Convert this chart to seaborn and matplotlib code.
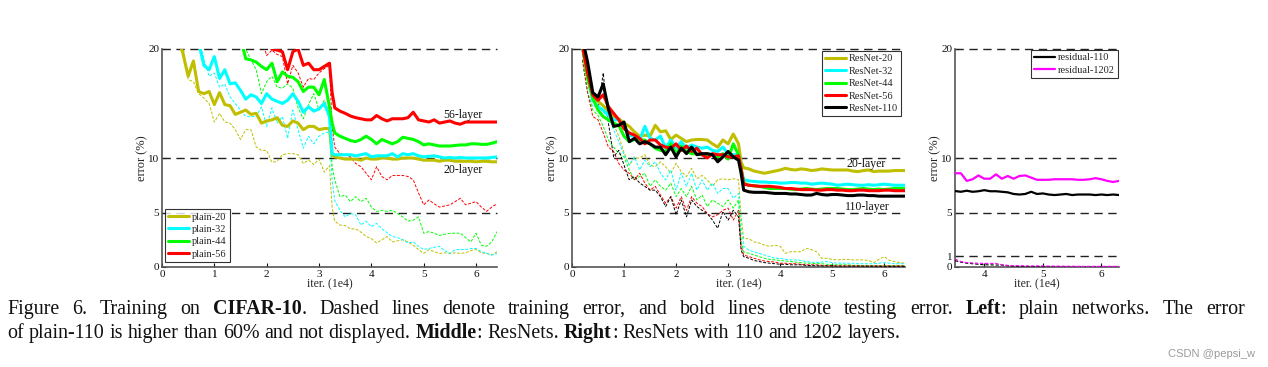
import numpy as np
import pandas as pd
import seaborn as sns
import matplotlib
matplotlib.use('Agg')
import matplotlib.pyplot as plt

NaN = np.nan

# x grid (iter, 1e4) of the left panel
LEFT_X = [0.3, 0.4, 0.5, 0.6, 0.7, 0.8, 0.9, 1.0, 1.1, 1.2,
          1.3, 1.4, 1.5, 1.6, 1.7, 1.8, 1.9, 2.0, 2.1, 2.2,
          2.3, 2.4, 2.5, 2.6, 2.7, 2.8, 2.9, 3.0, 3.1, 3.2,
          3.25,
          3.3, 3.4, 3.5, 3.6, 3.7, 3.8, 3.9, 4.0, 4.1, 4.2,
          4.3, 4.4, 4.5, 4.6, 4.7, 4.8, 4.9, 5.0, 5.1, 5.2,
          5.3, 5.4, 5.5, 5.6, 5.7, 5.8, 5.9, 6.0, 6.1, 6.2,
          6.3, 6.4]

# plain nets, test error (bold)
P20_TEST = [21.0, 19.6, 17.5, 18.9, 16.1, 15.9, 16.1, 14.9, 16.0, 14.9,
            14.8, 14.0, 14.2, 14.4, 14.0, 14.1, 13.2, 13.4, 13.5, 13.7,
            13.0, 12.9, 13.4, 13.2, 12.6, 12.9, 12.9, 12.6, 12.7, 12.7,
            10.3,
            10.1, 10.0, 9.9, 9.9, 9.9, 9.8, 10.0, 9.9, 9.9, 10.0,
            10.0, 9.9, 9.9, 10.0, 10.0, 10.0, 9.9, 9.8, 9.8, 9.8,
            9.7, 9.8, 9.8, 9.7, 9.7, 9.7, 9.7, 9.65, 9.7, 9.7,
            9.65, 9.65]
P32_TEST = [NaN, NaN, NaN, NaN, 20.6, 18.5, 18.1, 19.3, 17.3, 18.1,
            16.8, 16.9, 16.2, 15.4, 15.8, 15.6, 15.0, 15.9, 15.4, 15.2,
            15.0, 15.3, 15.9, 15.2, 14.2, 14.7, 14.3, 14.5, 15.0, 13.8,
            10.4,
            10.3, 10.3, 10.3, 10.3, 10.2, 10.3, 10.4, 10.1, 10.2, 10.2,
            10.2, 10.4, 10.1, 10.4, 10.3, 10.4, 10.2, 10.1, 10.15, 10.2,
            10.1, 10.0, 10.05, 10.0, 10.05, 10.0, 10.0, 10.0, 10.0, 10.0,
            10.05, 10.1]
P44_TEST = [NaN, NaN, NaN, NaN, NaN, NaN, NaN, NaN, NaN, NaN,
            NaN, NaN, 21.0, 19.1, 19.0, 18.8, 18.4, 18.1, 18.7, 17.0,
            17.9, 17.5, 17.4, 17.0, 16.1, 16.5, 16.5, 15.8, 17.2, 14.7,
            13.2,
            12.3, 12.0, 11.8, 11.6, 11.5, 11.7, 12.0, 11.7, 11.3, 11.7,
            11.5, 11.3, 11.5, 11.9, 11.8, 11.7, 11.5, 11.2, 11.3, 11.2,
            11.1, 11.1, 11.1, 11.15, 11.2, 11.2, 11.3, 11.3, 11.25, 11.25,
            11.35, 11.5]
P56_TEST = [NaN, NaN, NaN, NaN, NaN, NaN, NaN, NaN, NaN, NaN,
            NaN, NaN, NaN, NaN, NaN, NaN, NaN, 21.0, 20.0, 19.9,
            19.75, 18.1, 19.75, 20.0, 18.5, 18.7, 18.1, 18.1, 18.4, 18.7,
            16.0,
            14.6, 14.3, 14.1, 13.85, 13.7, 13.6, 13.5, 13.5, 13.9, 13.6,
            13.4, 13.6, 13.6, 13.6, 13.7, 14.2, 13.5, 13.4, 13.3, 13.5,
            13.2, 13.3, 13.4, 13.2, 13.1, 13.3, 13.3, 13.3, 13.3, 13.3,
            13.3, 13.3]

# plain nets, training error (dashed)
P20_TRAIN = [21.0, 20.3, 17.2, 17.0, 15.9, 15.5, 15.0, 13.3, 14.1, 13.3,
             13.2, 12.6, 11.7, 12.6, 12.6, 11.0, 10.7, 10.7, 9.6, 9.7,
             10.3, 10.4, 10.4, 10.3, 9.5, 9.8, 9.4, 9.9, 8.7, 9.3,
             5.5,
             4.2, 3.85, 3.8, 3.5, 3.5, 3.2, 2.8, 2.6, 2.2, 2.5,
             2.8, 2.3, 2.4, 2.5, 2.3, 2.0, 1.6, 1.25, 1.6, 1.4,
             1.25, 1.3, 1.25, 1.3, 1.25, 1.3, 1.5, 1.6, 1.3, 1.25,
             1.1, 1.4]
P32_TRAIN = [NaN, NaN, NaN, NaN, 21.0, 19.1, 17.5, 17.8, 16.5, 16.8,
             15.6, 15.0, 14.4, 13.8, 13.8, 13.8, 14.7, 12.9, 14.6, 13.2,
             13.8, 11.8, 14.4, 12.6, 10.9, 12.0, 11.3, 12.0, 12.3, 12.4,
             8.0,
             6.1, 5.2, 4.6, 4.9, 4.8, 3.85, 4.2, 3.7, 4.0, 3.5,
             3.15, 2.8, 2.7, 2.5, 2.2, 2.3, 1.9, 1.6, 1.7, 1.8,
             1.9, 1.5, 1.25, 1.6, 1.6, 1.6, 1.7, 1.7, 1.4, 1.25,
             1.1, 1.25]
P44_TRAIN = [NaN, NaN, NaN, NaN, NaN, NaN, NaN, NaN, NaN, NaN,
             NaN, NaN, 21.0, 20.0, 19.0, 18.1, 15.9, 17.0, 17.5, 16.5,
             16.4, 16.8, 16.4, 14.6, 13.6, 14.9, 15.9, 14.4, 15.3, 14.1,
             9.2,
             8.0, 6.45, 6.6, 6.0, 6.45, 6.0, 6.3, 5.5, 5.1, 5.2,
             5.1, 5.2, 4.9, 4.6, 4.2, 4.3, 4.6, 3.1, 3.25, 3.1,
             2.9, 3.0, 3.1, 3.1, 3.1, 2.7, 2.3, 3.1, 2.0, 1.9,
             2.3, 3.25]
P56_TRAIN = [NaN, NaN, NaN, NaN, NaN, NaN, NaN, NaN, NaN, NaN,
             NaN, NaN, NaN, NaN, NaN, NaN, 21.0, 19.4, 19.9, 19.5,
             19.3, 16.8, 18.5, 17.8, 16.5, 17.3, 17.2, 17.8, 18.2, 18.5,
             12.9,
             11.0, 10.4, 10.3, 10.1, 9.5, 9.2, 8.6, 8.0, 9.2, 8.3,
             8.0, 8.4, 8.4, 8.4, 8.3, 8.0, 6.8, 5.7, 6.15, 5.8,
             5.5, 5.6, 5.7, 6.0, 6.3, 5.7, 5.85, 6.0, 5.5, 5.1,
             5.5, 5.8]

# x grid of the middle panel
MID_X = [0.2, 0.3, 0.4, 0.5, 0.6, 0.7, 0.8, 0.9, 1.0, 1.1,
         1.2, 1.3, 1.4, 1.5, 1.6, 1.7, 1.8, 1.9, 2.0, 2.1,
         2.2, 2.3, 2.4, 2.5, 2.6, 2.7, 2.8, 2.9, 3.0, 3.1,
         3.2, 3.25,
         3.3, 3.4, 3.5, 3.6, 3.7, 3.8, 3.9, 4.0, 4.1, 4.2,
         4.3, 4.4, 4.5, 4.6, 4.7, 4.8, 4.9, 5.0, 5.1, 5.2,
         5.3, 5.4, 5.5, 5.6, 5.7, 5.8, 5.9, 6.0, 6.1, 6.2,
         6.3, 6.4]

# ResNets, test error (bold)
R20_TEST = [20.3, 17.5, 15.5, 15.2, 14.8, 14.3, 13.8, 13.6, 13.2, 12.9,
            12.4, 12.0, 12.1, 12.0, 13.0, 12.4, 12.5, 11.7, 12.1, 11.8,
            11.5, 11.65, 11.7, 11.7, 11.65, 11.3, 11.0, 11.65, 11.3, 12.2,
            11.3, 9.6,
            9.1, 9.0, 8.8, 8.7, 8.6, 8.7, 8.8, 8.9, 9.05, 8.95,
            8.9, 9.0, 8.95, 8.85, 8.9, 9.0, 8.95, 8.9, 8.9, 8.9,
            8.9, 8.8, 8.75, 8.85, 8.9, 8.75, 8.8, 8.8, 8.8, 8.85,
            8.85, 8.85]
R32_TEST = [20.3, 17.5, 15.3, 14.7, 14.4, 13.9, 13.5, 13.5, 12.9, 12.1,
            12.0, 11.65, 12.9, 11.8, 11.65, 12.0, 10.9, 11.65, 10.9, 11.5,
            10.9, 11.2, 11.0, 10.9, 11.0, 10.7, 10.6, 11.0, 10.4, 10.3,
            10.3, 9.0,
            8.0, 7.9, 7.85, 7.8, 7.8, 7.75, 7.75, 7.7, 7.7, 7.75,
            7.75, 7.7, 7.7, 7.6, 7.65, 7.7, 7.65, 7.6, 7.5, 7.55,
            7.6, 7.55, 7.5, 7.5, 7.55, 7.5, 7.55, 7.6, 7.55, 7.5,
            7.5, 7.5]
R44_TEST = [20.3, 17.3, 15.5, 14.4, 13.8, 13.5, 13.2, 13.0, 12.0, 11.5,
            11.7, 11.65, 11.65, 11.3, 10.9, 10.7, 10.6, 11.3, 10.4, 11.1,
            10.6, 10.4, 10.4, 10.3, 10.3, 10.3, 10.1, 10.4, 9.9, 11.3,
            10.3, 9.0,
            7.7, 7.5, 7.45, 7.4, 7.3, 7.2, 7.2, 7.2, 7.2, 7.15,
            7.1, 7.15, 7.2, 7.15, 7.1, 7.15, 7.2, 7.2, 7.2, 7.15,
            7.1, 7.1, 7.15, 7.2, 7.15, 7.1, 7.15, 7.1, 7.15, 7.2,
            7.2, 7.2]
R56_TEST = [20.3, 17.8, 15.8, 15.3, 15.8, 14.7, 14.1, 13.5, 12.7, 12.3,
            12.1, 11.8, 11.3, 11.65, 11.65, 11.2, 11.0, 10.9, 11.3, 10.7,
            11.1, 10.6, 10.9, 10.3, 10.0, 10.4, 10.3, 10.3, 10.1, 10.1,
            10.2, 9.0,
            7.6, 7.5, 7.45, 7.4, 7.4, 7.4, 7.35, 7.3, 7.2, 7.2,
            7.15, 7.1, 7.1, 7.1, 7.05, 7.05, 7.1, 7.1, 7.05, 7.05,
            7.0, 7.0, 7.05, 7.05, 7.0, 7.0, 7.0, 7.05, 7.05, 7.0,
            7.0, 7.0]
R110_TEST = [21.0, 18.8, 16.0, 15.6, 16.8, 14.5, 12.9, 13.0, 13.3, 11.5,
             11.8, 11.3, 11.5, 11.3, 11.0, 11.0, 10.3, 11.0, 10.1, 10.9,
             10.4, 11.0, 10.3, 10.4, 10.4, 10.3, 9.65, 10.1, 10.6, 10.1,
             9.8, 8.6,
             7.05, 6.9, 6.85, 6.85, 6.85, 6.8, 6.75, 6.75, 6.75, 6.7,
             6.7, 6.65, 6.6, 6.6, 6.75, 6.65, 6.6, 6.65, 6.65, 6.6,
             6.55, 6.55, 6.6, 6.6, 6.55, 6.55, 6.5, 6.5, 6.5, 6.5,
             6.5, 6.5]

# ResNets, training error (dashed)
R20_TRAIN = [19.5, 17.0, 15.3, 14.5, 13.7, 13.5, 13.1, 12.0, 10.5, 9.35,
             10.0, 10.0, 10.3, 9.35, 9.2, 9.65, 9.2, 8.6, 9.5, 8.75,
             8.3, 9.05, 8.1, 8.4, 8.0, 7.4, 8.0, 8.1, 8.0, 8.1,
             8.0, 4.6,
             2.6, 2.6, 2.3, 2.2, 2.0, 1.9, 2.0, 1.9, 1.25, 1.4,
             1.4, 1.4, 1.7, 1.6, 1.4, 0.8, 0.8, 0.7, 0.65, 0.7,
             0.7, 0.65, 0.65, 0.65, 0.6, 0.4, 0.7, 0.95, 0.6, 0.5,
             0.4, 0.35]
R32_TRAIN = [19.0, 16.0, 14.7, 14.9, 14.2, 13.8, 12.6, 11.5, 10.3, 9.35,
             10.1, 8.9, 9.8, 9.2, 9.65, 8.6, 8.0, 8.9, 7.05, 8.6,
             7.4, 8.6, 7.05, 8.0, 7.05, 7.7, 6.75, 7.2, 7.2, 6.3,
             6.75, 3.7,
             1.9, 1.55, 1.4, 1.25, 1.1, 0.95, 0.8, 0.8, 0.7, 0.65,
             0.65, 0.6, 0.5, 0.45, 0.4, 0.45, 0.5, 0.4, 0.35, 0.35,
             0.35, 0.35, 0.3, 0.3, 0.3, 0.3, 0.35, 0.4, 0.35, 0.3,
             0.3, 0.3]
R44_TRAIN = [19.0, 16.0, 14.4, 13.9, 12.9, 11.65, 11.0, 10.4, 10.1, 8.9,
             8.0, 8.3, 8.6, 7.4, 8.0, 7.4, 7.05, 7.7, 6.45, 7.2,
             6.45, 7.4, 6.15, 6.6, 5.55, 6.15, 5.85, 5.55, 6.15, 5.4,
             6.15, 2.5,
             1.4, 1.25, 1.1, 0.95, 0.8, 0.7, 0.65, 0.6, 0.55, 0.5,
             0.45, 0.4, 0.35, 0.35, 0.3, 0.3, 0.25, 0.2, 0.2, 0.2,
             0.2, 0.15, 0.15, 0.12, 0.12, 0.12, 0.12, 0.12, 0.12, 0.12,
             0.12, 0.12]
R56_TRAIN = [19.0, 16.0, 13.8, 13.5, 12.3, 11.0, 10.6, 9.5, 8.9, 8.6,
             8.0, 8.6, 7.7, 7.05, 7.4, 6.6, 5.85, 6.45, 5.4, 6.45,
             5.2, 6.45, 5.85, 5.55, 4.9, 4.6, 4.8, 5.2, 5.4, 4.3,
             5.2, 1.9,
             1.1, 0.95, 0.8, 0.65, 0.55, 0.5, 0.45, 0.35, 0.35, 0.3,
             0.3, 0.25, 0.2, 0.2, 0.2, 0.15, 0.12, 0.12, 0.1, 0.1,
             0.1, 0.1, 0.1, 0.1, 0.1, 0.1, 0.1, 0.1, 0.1, 0.1,
             0.1, 0.1]
R110_TRAIN = [20.5, 17.5, 15.6, 14.4, 17.8, 13.2, 10.1, 10.7, 9.35, 8.0,
              8.3, 7.7, 7.4, 7.05, 7.05, 6.45, 5.55, 6.45, 4.8, 6.15,
              4.6, 6.15, 5.55, 5.2, 4.9, 4.3, 3.55, 5.1, 4.3, 5.2,
              4.6, 1.55,
              0.95, 0.8, 0.6, 0.5, 0.4, 0.35, 0.3, 0.25, 0.25, 0.2,
              0.2, 0.2, 0.15, 0.12, 0.12, 0.1, 0.1, 0.1, 0.08, 0.08,
              0.08, 0.08, 0.08, 0.07, 0.07, 0.07, 0.06, 0.06, 0.06, 0.06,
              0.06, 0.06]

# x grid of the right panel
RIGHT_X = [3.5, 3.6, 3.7, 3.8, 3.9, 4.0, 4.1, 4.2, 4.3, 4.4,
           4.5, 4.6, 4.7, 4.8, 4.9, 5.0, 5.1, 5.2, 5.3, 5.4,
           5.5, 5.6, 5.7, 5.8, 5.9, 6.0, 6.1, 6.2, 6.3]
RES110_TEST = [6.97, 6.9, 7.0, 6.9, 6.95, 7.05, 6.95, 6.95, 6.9, 6.85,
               6.7, 6.65, 6.7, 6.9, 6.7, 6.75, 6.65, 6.6, 6.65, 6.7,
               6.6, 6.65, 6.65, 6.65, 6.6, 6.65, 6.6, 6.65, 6.6]
RES1202_TEST = [8.6, 8.6, 7.9, 8.05, 8.4, 8.1, 8.1, 8.5, 8.1, 8.35,
                8.1, 8.35, 8.4, 8.2, 8.0, 8.0, 8.0, 8.05, 8.05, 8.05,
                8.05, 8.0, 8.0, 8.05, 8.15, 8.05, 7.9, 7.8, 7.9]
RES110_TRAIN = [0.58, 0.45, 0.35, 0.3, 0.25, 0.2, 0.2, 0.18, 0.18, 0.12,
                0.08, 0.06, 0.05, 0.05, 0.04, 0.04, 0.03, 0.03, 0.03, 0.03,
                0.03, 0.03, 0.03, 0.03, 0.03, 0.03, 0.03, 0.03, 0.03]
RES1202_TRAIN = [0.73, 0.5, 0.4, 0.37, 0.35, 0.33, 0.33, 0.33, 0.2, 0.15,
                 0.12, 0.12, 0.1, 0.1, 0.1, 0.1, 0.08, 0.08, 0.08, 0.07,
                 0.07, 0.06, 0.06, 0.06, 0.06, 0.06, 0.06, 0.06, 0.06]

OLIVE, CYAN, GREEN, RED, BLACK, MAGENTA = '#bfbf00', '#00ffff', '#00ff00', '#ff0000', '#000000', '#ff00ff'

LEFT_SERIES = [('plain-20', OLIVE, P20_TEST, P20_TRAIN),
               ('plain-32', CYAN, P32_TEST, P32_TRAIN),
               ('plain-44', GREEN, P44_TEST, P44_TRAIN),
               ('plain-56', RED, P56_TEST, P56_TRAIN)]
MID_SERIES = [('ResNet-20', OLIVE, R20_TEST, R20_TRAIN),
              ('ResNet-32', CYAN, R32_TEST, R32_TRAIN),
              ('ResNet-44', GREEN, R44_TEST, R44_TRAIN),
              ('ResNet-56', RED, R56_TEST, R56_TRAIN),
              ('ResNet-110', BLACK, R110_TEST, R110_TRAIN)]
RIGHT_SERIES = [('residual-110', BLACK, RES110_TEST, RES110_TRAIN),
                ('residual-1202', MAGENTA, RES1202_TEST, RES1202_TRAIN)]

SERIF = 'Liberation Serif'

sns.set_theme(style='ticks')
plt.rcParams['font.family'] = [SERIF, 'DejaVu Serif']
plt.rcParams['axes.unicode_minus'] = False

W, H = 1268, 367
fig = plt.figure(figsize=(W / 100, H / 100), dpi=100)
fig.patch.set_facecolor('white')


def px_axes(l, t, r, b):
    return fig.add_axes([l / W, 1 - b / H, (r - l) / W, (b - t) / H])


def draw(ax, x, y, color, lw, dashed=False, label=None):
    d = pd.DataFrame({'x': x, 'y': y}).dropna()
    kw = {'linestyle': (0, (3, 1.6))} if dashed else {}
    sns.lineplot(data=d, x='x', y='y', ax=ax, color=color, lw=lw,
                 label=label, zorder=3, **kw)
    return ax.get_lines()[-1]


def style_axis(ax, xlim, xticks, yticks):
    ax.set_xlim(*xlim)
    ax.set_ylim(0, 20)
    ax.set_xticks(xticks)
    ax.set_yticks(yticks)
    ax.set_xticklabels([str(t) for t in xticks])
    ax.set_yticklabels([str(t) for t in yticks])
    for y in yticks[1:]:
        ax.axhline(y, color='#222222', lw=1.0, dashes=(6, 4), zorder=1, clip_on=False)
    for s in ['top', 'right']:
        ax.spines[s].set_visible(False)
    for s in ['left', 'bottom']:
        ax.spines[s].set_color('#555555')
        ax.spines[s].set_linewidth(1.2)
    ax.tick_params(direction='in', length=3, width=0.8, labelsize=8, pad=2,
                   colors='#111111')
    ax.set_xlabel('iter. (1e4)', fontsize=8.5, labelpad=0)
    ax.set_ylabel('error (%)', fontsize=9, labelpad=0)
    ax.set_facecolor('white')


def panel(ax, xs, series, test_lw, train_lw):
    handles = []
    for name, color, test, train in series:
        draw(ax, xs, train, color, train_lw, dashed=True)
    for name, color, test, train in series:
        handles.append(draw(ax, xs, test, color, test_lw, label=name))
    return handles


ax1 = px_axes(162, 49, 497, 267)
ax2 = px_axes(572, 49, 905, 267)
ax3 = px_axes(955, 49, 1119, 267)

h1 = panel(ax1, LEFT_X, LEFT_SERIES, 2.2, 0.7)
h2 = panel(ax2, MID_X, MID_SERIES, 2.2, 0.7)
h3 = panel(ax3, RIGHT_X, RIGHT_SERIES, 1.6, 0.8)

style_axis(ax1, (0, 6.4), [0, 1, 2, 3, 4, 5, 6], [0, 5, 10, 20])
style_axis(ax2, (0, 6.4), [0, 1, 2, 3, 4, 5, 6], [0, 5, 10, 20])
style_axis(ax3, (3.5, 6.3), [4, 5, 6], [0, 1, 5, 10, 20])

leg_kw = dict(prop={'family': SERIF, 'size': 7.5}, frameon=True, fancybox=False,
              borderaxespad=0, handlelength=2.0, handletextpad=0.3,
              labelspacing=0.3, borderpad=0.3)
for ax, hs, loc, anchor in [(ax1, h1, 'lower left', (3 / 335, 5 / 218)),
                            (ax2, h2, 'upper right', (1 - 4 / 333, 1 - 2 / 218)),
                            (ax3, h3, 'upper right', (1 - 1 / 164, 1 - 1 / 218))]:
    leg = ax.legend(handles=hs, labels=[h.get_label() for h in hs], loc=loc,
                    bbox_to_anchor=anchor, **leg_kw)
    leg.get_frame().set_edgecolor('black')
    leg.get_frame().set_linewidth(0.8)
    leg.set_zorder(5)

ann = dict(ha='center', va='center', fontsize=8.5, color='#111111')
ax1.text(5.75, 13.95, '56-layer', **ann)
ax1.text(5.75, 8.9, '20-layer', **ann)
ax2.text(5.66, 9.45, '20-layer', **ann)
ax2.text(5.68, 5.5, '110-layer', **ann)

# caption with bold runs; first line is justified like the paper's text
renderer = fig.canvas.get_renderer()


def seg_width(text, bold, size):
    weight = 'bold' if bold else 'normal'
    t1 = fig.text(0, 0, text + '|', fontsize=size, family=SERIF, fontweight=weight)
    t2 = fig.text(0, 0, '|', fontsize=size, family=SERIF, fontweight=weight)
    w = t1.get_window_extent(renderer).width - t2.get_window_extent(renderer).width
    t1.remove()
    t2.remove()
    return w


def to_words(parts):
    words = [[]]
    for text, bold in parts:
        for i, piece in enumerate(text.split(' ')):
            if i > 0:
                words.append([])
            if piece:
                words[-1].append((piece, bold))
    return [w for w in words if w]


LINE1 = [('Figure 6. Training on ', False), ('CIFAR-10', True),
         ('. Dashed lines denote training error, and bold lines denote testing error. ', False),
         ('Left', True), (': plain networks. The error', False)]
LINE2 = [('of plain-110 is higher than 60% and not displayed. ', False), ('Middle', True),
         (': ResNets. ', False), ('Right', True), (': ResNets with 110 and 1202 layers.', False)]

base = 12.0
w2 = sum(seg_width(t, b, base) for t, b in LINE2)
cap_size = base * (895 / w2)


def draw_line(parts, x_px, base_px, target_w=None):
    words = to_words(parts)
    widths = [sum(seg_width(t, b, cap_size) for t, b in w) for w in words]
    if target_w is None:
        gap = seg_width(' ', False, cap_size)
    else:
        gap = (target_w - sum(widths)) / (len(words) - 1)
    x = x_px
    for w, ww in zip(words, widths):
        xx = x
        for text, bold in w:
            fig.text(xx / W, 1 - base_px / H, text, fontsize=cap_size, family=SERIF,
                     fontweight='bold' if bold else 'normal', va='baseline',
                     ha='left', color='#111111')
            xx += seg_width(text, bold, cap_size)
        x += ww + gap


draw_line(LINE1, 7, 314, target_w=1238)
draw_line(LINE2, 7, 338)

fig.text(1255 / W, 1 - 354 / H, 'CSDN @pepsi_w', ha='right', va='center',
         fontsize=8, color='#9a9a9a', family='Liberation Sans')

fig.savefig('out.png', dpi=100, facecolor='white')
